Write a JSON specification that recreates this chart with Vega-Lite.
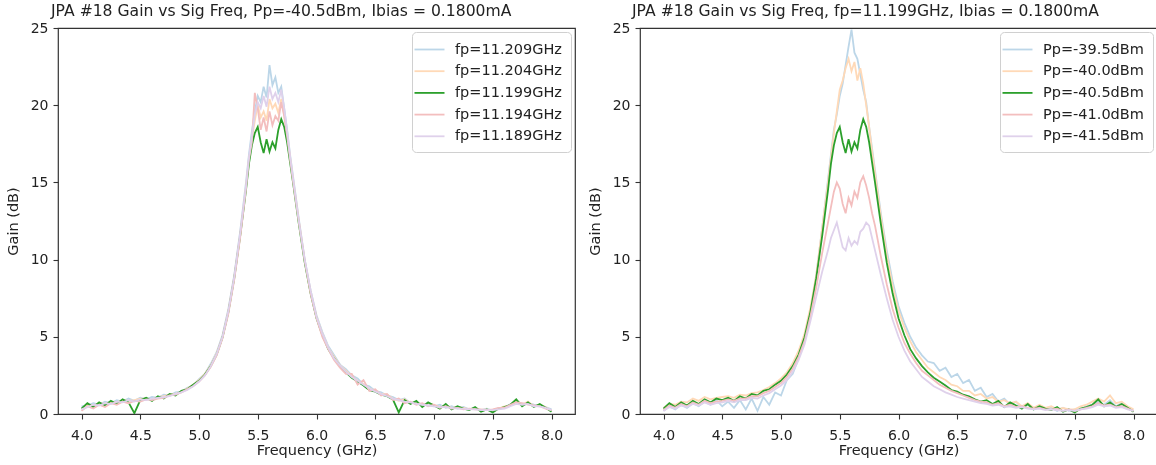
{
"$schema": "https://vega.github.io/schema/vega-lite/v6.json",
"padding": {"left": 4, "top": 3, "right": 2, "bottom": 0},
"spacing": 10,
"config": {
 "font": "DejaVu Sans",
 "view": {"stroke": "#333333", "strokeWidth": 1.2},
 "axis": {"grid": false, "domain": false, "tickColor": "#333333", "tickSize": 5, "tickWidth": 1.1, "labelColor": "#222222", "labelFontSize": 14, "titleFontSize": 14.5, "titleFontWeight": "normal", "titleColor": "#222222", "labelPadding": 5},
 "axisX": {"labelPadding": 9, "titlePadding": 1},
 "title": {"fontSize": 15.6, "fontWeight": "normal", "color": "#222222"}
},
"datasets": {
"L": [
{"k":1,"f":4.00,"g":0.5},{"k":1,"f":4.05,"g":0.55},{"k":1,"f":4.10,"g":0.7},{"k":1,"f":4.15,"g":0.6},{"k":1,"f":4.20,"g":0.8},{"k":1,"f":4.25,"g":0.7},{"k":1,"f":4.30,"g":0.9},{"k":1,"f":4.35,"g":0.8},{"k":1,"f":4.40,"g":1.0},{"k":1,"f":4.45,"g":0.85},{"k":1,"f":4.50,"g":1.05},{"k":1,"f":4.55,"g":0.95},{"k":1,"f":4.60,"g":1.1},{"k":1,"f":4.65,"g":1.05},{"k":1,"f":4.70,"g":1.25},{"k":1,"f":4.75,"g":1.2},{"k":1,"f":4.80,"g":1.4},{"k":1,"f":4.85,"g":1.45},{"k":1,"f":4.90,"g":1.7},{"k":1,"f":4.95,"g":1.85},{"k":1,"f":5.00,"g":2.25},{"k":1,"f":5.05,"g":2.6},{"k":1,"f":5.10,"g":3.25},{"k":1,"f":5.15,"g":4.0},{"k":1,"f":5.20,"g":5.1},{"k":1,"f":5.25,"g":6.8},{"k":1,"f":5.30,"g":9.0},{"k":1,"f":5.35,"g":11.8},{"k":1,"f":5.40,"g":15.0},{"k":1,"f":5.425,"g":16.8},{"k":1,"f":5.45,"g":18.3},{"k":1,"f":5.475,"g":19.6},{"k":1,"f":5.50,"g":20.6},{"k":1,"f":5.525,"g":20.2},{"k":1,"f":5.55,"g":21.2},{"k":1,"f":5.575,"g":20.5},{"k":1,"f":5.60,"g":22.6},{"k":1,"f":5.625,"g":21.3},{"k":1,"f":5.65,"g":21.8},{"k":1,"f":5.675,"g":20.8},{"k":1,"f":5.70,"g":21.2},{"k":1,"f":5.725,"g":19.8},{"k":1,"f":5.75,"g":18.4},{"k":1,"f":5.775,"g":16.8},{"k":1,"f":5.80,"g":15.4},{"k":1,"f":5.85,"g":12.6},{"k":1,"f":5.90,"g":10.0},{"k":1,"f":5.95,"g":8.0},{"k":1,"f":6.00,"g":6.4},{"k":1,"f":6.05,"g":5.3},{"k":1,"f":6.10,"g":4.4},{"k":1,"f":6.15,"g":3.8},{"k":1,"f":6.20,"g":3.2},{"k":1,"f":6.25,"g":2.9},{"k":1,"f":6.30,"g":2.5},{"k":1,"f":6.35,"g":2.3},{"k":1,"f":6.40,"g":1.9},{"k":1,"f":6.45,"g":1.8},{"k":1,"f":6.50,"g":1.5},{"k":1,"f":6.55,"g":1.4},{"k":1,"f":6.60,"g":1.2},{"k":1,"f":6.65,"g":1.1},{"k":1,"f":6.70,"g":0.9},{"k":1,"f":6.75,"g":1.0},{"k":1,"f":6.80,"g":0.7},{"k":1,"f":6.85,"g":0.8},{"k":1,"f":6.90,"g":0.6},{"k":1,"f":6.95,"g":0.7},{"k":1,"f":7.00,"g":0.5},{"k":1,"f":7.05,"g":0.6},{"k":1,"f":7.10,"g":0.4},{"k":1,"f":7.15,"g":0.5},{"k":1,"f":7.20,"g":0.35},{"k":1,"f":7.25,"g":0.45},{"k":1,"f":7.30,"g":0.3},{"k":1,"f":7.35,"g":0.4},{"k":1,"f":7.40,"g":0.25},{"k":1,"f":7.45,"g":0.35},{"k":1,"f":7.50,"g":0.2},{"k":1,"f":7.55,"g":0.4},{"k":1,"f":7.60,"g":0.4},{"k":1,"f":7.65,"g":0.65},{"k":1,"f":7.70,"g":0.8},{"k":1,"f":7.75,"g":0.65},{"k":1,"f":7.80,"g":0.7},{"k":1,"f":7.85,"g":0.6},{"k":1,"f":7.90,"g":0.55},{"k":1,"f":7.95,"g":0.45},{"k":1,"f":8.00,"g":0.3},
{"k":2,"f":4.00,"g":0.3},{"k":2,"f":4.05,"g":0.6},{"k":2,"f":4.10,"g":0.55},{"k":2,"f":4.15,"g":0.7},{"k":2,"f":4.20,"g":0.65},{"k":2,"f":4.25,"g":0.8},{"k":2,"f":4.30,"g":0.75},{"k":2,"f":4.35,"g":0.9},{"k":2,"f":4.40,"g":0.85},{"k":2,"f":4.45,"g":0.9},{"k":2,"f":4.50,"g":1.0},{"k":2,"f":4.55,"g":1.0},{"k":2,"f":4.60,"g":0.95},{"k":2,"f":4.65,"g":1.1},{"k":2,"f":4.70,"g":1.15},{"k":2,"f":4.75,"g":1.25},{"k":2,"f":4.80,"g":1.3},{"k":2,"f":4.85,"g":1.45},{"k":2,"f":4.90,"g":1.65},{"k":2,"f":4.95,"g":1.9},{"k":2,"f":5.00,"g":2.2},{"k":2,"f":5.05,"g":2.6},{"k":2,"f":5.10,"g":3.15},{"k":2,"f":5.15,"g":3.95},{"k":2,"f":5.20,"g":5.0},{"k":2,"f":5.25,"g":6.7},{"k":2,"f":5.30,"g":8.9},{"k":2,"f":5.35,"g":11.6},{"k":2,"f":5.40,"g":14.7},{"k":2,"f":5.425,"g":16.4},{"k":2,"f":5.45,"g":17.8},{"k":2,"f":5.475,"g":19.0},{"k":2,"f":5.50,"g":20.0},{"k":2,"f":5.525,"g":19.2},{"k":2,"f":5.55,"g":19.6},{"k":2,"f":5.575,"g":19.0},{"k":2,"f":5.60,"g":20.4},{"k":2,"f":5.625,"g":19.8},{"k":2,"f":5.65,"g":20.1},{"k":2,"f":5.675,"g":19.5},{"k":2,"f":5.70,"g":20.4},{"k":2,"f":5.725,"g":19.4},{"k":2,"f":5.75,"g":18.1},{"k":2,"f":5.775,"g":16.6},{"k":2,"f":5.80,"g":15.2},{"k":2,"f":5.85,"g":12.5},{"k":2,"f":5.90,"g":9.9},{"k":2,"f":5.95,"g":7.9},{"k":2,"f":6.00,"g":6.3},{"k":2,"f":6.05,"g":5.2},{"k":2,"f":6.10,"g":4.3},{"k":2,"f":6.15,"g":3.7},{"k":2,"f":6.20,"g":3.15},{"k":2,"f":6.25,"g":2.8},{"k":2,"f":6.30,"g":2.45},{"k":2,"f":6.35,"g":2.15},{"k":2,"f":6.40,"g":1.95},{"k":2,"f":6.45,"g":1.65},{"k":2,"f":6.50,"g":1.5},{"k":2,"f":6.55,"g":1.3},{"k":2,"f":6.60,"g":1.25},{"k":2,"f":6.65,"g":1.0},{"k":2,"f":6.70,"g":0.85},{"k":2,"f":6.75,"g":0.95},{"k":2,"f":6.80,"g":0.7},{"k":2,"f":6.85,"g":0.8},{"k":2,"f":6.90,"g":0.55},{"k":2,"f":6.95,"g":0.7},{"k":2,"f":7.00,"g":0.6},{"k":2,"f":7.05,"g":0.45},{"k":2,"f":7.10,"g":0.55},{"k":2,"f":7.15,"g":0.4},{"k":2,"f":7.20,"g":0.45},{"k":2,"f":7.25,"g":0.4},{"k":2,"f":7.30,"g":0.3},{"k":2,"f":7.35,"g":0.4},{"k":2,"f":7.40,"g":0.25},{"k":2,"f":7.45,"g":0.3},{"k":2,"f":7.50,"g":0.2},{"k":2,"f":7.55,"g":0.35},{"k":2,"f":7.60,"g":0.5},{"k":2,"f":7.65,"g":0.55},{"k":2,"f":7.70,"g":0.9},{"k":2,"f":7.75,"g":0.6},{"k":2,"f":7.80,"g":0.8},{"k":2,"f":7.85,"g":0.5},{"k":2,"f":7.90,"g":0.6},{"k":2,"f":7.95,"g":0.45},{"k":2,"f":8.00,"g":0.2},
{"k":3,"f":4.00,"g":0.35},{"k":3,"f":4.05,"g":0.7},{"k":3,"f":4.10,"g":0.45},{"k":3,"f":4.15,"g":0.75},{"k":3,"f":4.20,"g":0.55},{"k":3,"f":4.25,"g":0.85},{"k":3,"f":4.30,"g":0.65},{"k":3,"f":4.35,"g":0.95},{"k":3,"f":4.40,"g":0.75},{"k":3,"f":4.45,"g":0.05},{"k":3,"f":4.50,"g":0.9},{"k":3,"f":4.55,"g":1.05},{"k":3,"f":4.60,"g":0.85},{"k":3,"f":4.65,"g":1.15},{"k":3,"f":4.70,"g":1.0},{"k":3,"f":4.75,"g":1.3},{"k":3,"f":4.80,"g":1.2},{"k":3,"f":4.85,"g":1.5},{"k":3,"f":4.90,"g":1.6},{"k":3,"f":4.95,"g":1.9},{"k":3,"f":5.00,"g":2.15},{"k":3,"f":5.05,"g":2.55},{"k":3,"f":5.10,"g":3.1},{"k":3,"f":5.15,"g":3.85},{"k":3,"f":5.20,"g":4.95},{"k":3,"f":5.25,"g":6.6},{"k":3,"f":5.30,"g":8.8},{"k":3,"f":5.35,"g":11.5},{"k":3,"f":5.40,"g":14.5},{"k":3,"f":5.425,"g":16.2},{"k":3,"f":5.45,"g":17.4},{"k":3,"f":5.475,"g":18.2},{"k":3,"f":5.50,"g":18.6},{"k":3,"f":5.525,"g":17.6},{"k":3,"f":5.55,"g":16.9},{"k":3,"f":5.575,"g":17.8},{"k":3,"f":5.60,"g":17.0},{"k":3,"f":5.625,"g":17.6},{"k":3,"f":5.65,"g":17.2},{"k":3,"f":5.675,"g":18.4},{"k":3,"f":5.70,"g":19.1},{"k":3,"f":5.725,"g":18.6},{"k":3,"f":5.75,"g":17.6},{"k":3,"f":5.775,"g":16.3},{"k":3,"f":5.80,"g":15.0},{"k":3,"f":5.85,"g":12.3},{"k":3,"f":5.90,"g":9.8},{"k":3,"f":5.95,"g":7.8},{"k":3,"f":6.00,"g":6.2},{"k":3,"f":6.05,"g":5.1},{"k":3,"f":6.10,"g":4.2},{"k":3,"f":6.15,"g":3.6},{"k":3,"f":6.20,"g":3.1},{"k":3,"f":6.25,"g":2.7},{"k":3,"f":6.30,"g":2.35},{"k":3,"f":6.35,"g":2.1},{"k":3,"f":6.40,"g":1.85},{"k":3,"f":6.45,"g":1.55},{"k":3,"f":6.50,"g":1.45},{"k":3,"f":6.55,"g":1.25},{"k":3,"f":6.60,"g":1.15},{"k":3,"f":6.65,"g":0.95},{"k":3,"f":6.70,"g":0.1},{"k":3,"f":6.75,"g":0.9},{"k":3,"f":6.80,"g":0.65},{"k":3,"f":6.85,"g":0.85},{"k":3,"f":6.90,"g":0.45},{"k":3,"f":6.95,"g":0.75},{"k":3,"f":7.00,"g":0.55},{"k":3,"f":7.05,"g":0.35},{"k":3,"f":7.10,"g":0.65},{"k":3,"f":7.15,"g":0.3},{"k":3,"f":7.20,"g":0.5},{"k":3,"f":7.25,"g":0.35},{"k":3,"f":7.30,"g":0.25},{"k":3,"f":7.35,"g":0.45},{"k":3,"f":7.40,"g":0.15},{"k":3,"f":7.45,"g":0.3},{"k":3,"f":7.50,"g":0.1},{"k":3,"f":7.55,"g":0.35},{"k":3,"f":7.60,"g":0.45},{"k":3,"f":7.65,"g":0.6},{"k":3,"f":7.70,"g":0.95},{"k":3,"f":7.75,"g":0.5},{"k":3,"f":7.80,"g":0.75},{"k":3,"f":7.85,"g":0.45},{"k":3,"f":7.90,"g":0.65},{"k":3,"f":7.95,"g":0.4},{"k":3,"f":8.00,"g":0.15},
{"k":4,"f":4.00,"g":0.2},{"k":4,"f":4.05,"g":0.5},{"k":4,"f":4.10,"g":0.35},{"k":4,"f":4.15,"g":0.6},{"k":4,"f":4.20,"g":0.45},{"k":4,"f":4.25,"g":0.7},{"k":4,"f":4.30,"g":0.6},{"k":4,"f":4.35,"g":0.8},{"k":4,"f":4.40,"g":0.7},{"k":4,"f":4.45,"g":0.85},{"k":4,"f":4.50,"g":0.8},{"k":4,"f":4.55,"g":0.95},{"k":4,"f":4.60,"g":0.9},{"k":4,"f":4.65,"g":1.0},{"k":4,"f":4.70,"g":1.05},{"k":4,"f":4.75,"g":1.2},{"k":4,"f":4.80,"g":1.25},{"k":4,"f":4.85,"g":1.4},{"k":4,"f":4.90,"g":1.6},{"k":4,"f":4.95,"g":1.8},{"k":4,"f":5.00,"g":2.1},{"k":4,"f":5.05,"g":2.5},{"k":4,"f":5.10,"g":3.05},{"k":4,"f":5.15,"g":3.8},{"k":4,"f":5.20,"g":4.9},{"k":4,"f":5.25,"g":6.5},{"k":4,"f":5.30,"g":8.7},{"k":4,"f":5.35,"g":11.4},{"k":4,"f":5.40,"g":14.6},{"k":4,"f":5.425,"g":16.5},{"k":4,"f":5.45,"g":17.6},{"k":4,"f":5.475,"g":20.8},{"k":4,"f":5.50,"g":19.8},{"k":4,"f":5.525,"g":18.4},{"k":4,"f":5.55,"g":19.2},{"k":4,"f":5.575,"g":18.3},{"k":4,"f":5.60,"g":19.6},{"k":4,"f":5.625,"g":18.7},{"k":4,"f":5.65,"g":19.3},{"k":4,"f":5.675,"g":19.0},{"k":4,"f":5.70,"g":20.2},{"k":4,"f":5.725,"g":19.3},{"k":4,"f":5.75,"g":18.0},{"k":4,"f":5.775,"g":16.5},{"k":4,"f":5.80,"g":15.1},{"k":4,"f":5.85,"g":12.4},{"k":4,"f":5.90,"g":9.9},{"k":4,"f":5.95,"g":7.8},{"k":4,"f":6.00,"g":6.2},{"k":4,"f":6.05,"g":5.0},{"k":4,"f":6.10,"g":4.2},{"k":4,"f":6.15,"g":3.5},{"k":4,"f":6.20,"g":3.0},{"k":4,"f":6.25,"g":2.6},{"k":4,"f":6.30,"g":2.6},{"k":4,"f":6.35,"g":1.9},{"k":4,"f":6.40,"g":2.2},{"k":4,"f":6.45,"g":1.5},{"k":4,"f":6.50,"g":1.6},{"k":4,"f":6.55,"g":1.2},{"k":4,"f":6.60,"g":1.3},{"k":4,"f":6.65,"g":0.9},{"k":4,"f":6.70,"g":1.0},{"k":4,"f":6.75,"g":0.7},{"k":4,"f":6.80,"g":0.8},{"k":4,"f":6.85,"g":0.6},{"k":4,"f":6.90,"g":0.7},{"k":4,"f":6.95,"g":0.5},{"k":4,"f":7.00,"g":0.6},{"k":4,"f":7.05,"g":0.4},{"k":4,"f":7.10,"g":0.5},{"k":4,"f":7.15,"g":0.35},{"k":4,"f":7.20,"g":0.4},{"k":4,"f":7.25,"g":0.3},{"k":4,"f":7.30,"g":0.35},{"k":4,"f":7.35,"g":0.3},{"k":4,"f":7.40,"g":0.3},{"k":4,"f":7.45,"g":0.25},{"k":4,"f":7.50,"g":0.3},{"k":4,"f":7.55,"g":0.4},{"k":4,"f":7.60,"g":0.4},{"k":4,"f":7.65,"g":0.6},{"k":4,"f":7.70,"g":0.75},{"k":4,"f":7.75,"g":0.7},{"k":4,"f":7.80,"g":0.6},{"k":4,"f":7.85,"g":0.55},{"k":4,"f":7.90,"g":0.5},{"k":4,"f":7.95,"g":0.35},{"k":4,"f":8.00,"g":0.25},
{"k":5,"f":4.00,"g":0.3},{"k":5,"f":4.05,"g":0.45},{"k":5,"f":4.10,"g":0.6},{"k":5,"f":4.15,"g":0.55},{"k":5,"f":4.20,"g":0.7},{"k":5,"f":4.25,"g":0.65},{"k":5,"f":4.30,"g":0.8},{"k":5,"f":4.35,"g":0.75},{"k":5,"f":4.40,"g":0.9},{"k":5,"f":4.45,"g":0.8},{"k":5,"f":4.50,"g":0.95},{"k":5,"f":4.55,"g":0.9},{"k":5,"f":4.60,"g":1.0},{"k":5,"f":4.65,"g":1.05},{"k":5,"f":4.70,"g":1.1},{"k":5,"f":4.75,"g":1.15},{"k":5,"f":4.80,"g":1.3},{"k":5,"f":4.85,"g":1.4},{"k":5,"f":4.90,"g":1.55},{"k":5,"f":4.95,"g":1.8},{"k":5,"f":5.00,"g":2.1},{"k":5,"f":5.05,"g":2.5},{"k":5,"f":5.10,"g":3.1},{"k":5,"f":5.15,"g":3.9},{"k":5,"f":5.20,"g":5.0},{"k":5,"f":5.25,"g":6.7},{"k":5,"f":5.30,"g":8.9},{"k":5,"f":5.35,"g":11.7},{"k":5,"f":5.40,"g":14.8},{"k":5,"f":5.425,"g":16.6},{"k":5,"f":5.45,"g":18.0},{"k":5,"f":5.475,"g":19.4},{"k":5,"f":5.50,"g":20.2},{"k":5,"f":5.525,"g":19.8},{"k":5,"f":5.55,"g":20.6},{"k":5,"f":5.575,"g":19.9},{"k":5,"f":5.60,"g":21.2},{"k":5,"f":5.625,"g":20.4},{"k":5,"f":5.65,"g":20.8},{"k":5,"f":5.675,"g":20.2},{"k":5,"f":5.70,"g":21.0},{"k":5,"f":5.725,"g":19.8},{"k":5,"f":5.75,"g":18.3},{"k":5,"f":5.775,"g":16.7},{"k":5,"f":5.80,"g":15.3},{"k":5,"f":5.85,"g":12.5},{"k":5,"f":5.90,"g":10.0},{"k":5,"f":5.95,"g":8.0},{"k":5,"f":6.00,"g":6.3},{"k":5,"f":6.05,"g":5.2},{"k":5,"f":6.10,"g":4.3},{"k":5,"f":6.15,"g":3.6},{"k":5,"f":6.20,"g":3.15},{"k":5,"f":6.25,"g":2.75},{"k":5,"f":6.30,"g":2.4},{"k":5,"f":6.35,"g":2.15},{"k":5,"f":6.40,"g":1.9},{"k":5,"f":6.45,"g":1.65},{"k":5,"f":6.50,"g":1.45},{"k":5,"f":6.55,"g":1.3},{"k":5,"f":6.60,"g":1.15},{"k":5,"f":6.65,"g":1.0},{"k":5,"f":6.70,"g":0.9},{"k":5,"f":6.75,"g":0.8},{"k":5,"f":6.80,"g":0.75},{"k":5,"f":6.85,"g":0.65},{"k":5,"f":6.90,"g":0.6},{"k":5,"f":6.95,"g":0.55},{"k":5,"f":7.00,"g":0.5},{"k":5,"f":7.05,"g":0.45},{"k":5,"f":7.10,"g":0.45},{"k":5,"f":7.15,"g":0.4},{"k":5,"f":7.20,"g":0.35},{"k":5,"f":7.25,"g":0.35},{"k":5,"f":7.30,"g":0.3},{"k":5,"f":7.35,"g":0.3},{"k":5,"f":7.40,"g":0.25},{"k":5,"f":7.45,"g":0.25},{"k":5,"f":7.50,"g":0.25},{"k":5,"f":7.55,"g":0.3},{"k":5,"f":7.60,"g":0.35},{"k":5,"f":7.65,"g":0.5},{"k":5,"f":7.70,"g":0.65},{"k":5,"f":7.75,"g":0.6},{"k":5,"f":7.80,"g":0.65},{"k":5,"f":7.85,"g":0.5},{"k":5,"f":7.90,"g":0.5},{"k":5,"f":7.95,"g":0.4},{"k":5,"f":8.00,"g":0.25}
],
"R": [
{"k":1,"f":4.00,"g":0.2},{"k":1,"f":4.05,"g":0.5},{"k":1,"f":4.10,"g":0.3},{"k":1,"f":4.15,"g":0.6},{"k":1,"f":4.20,"g":0.4},{"k":1,"f":4.25,"g":0.7},{"k":1,"f":4.30,"g":0.5},{"k":1,"f":4.35,"g":0.8},{"k":1,"f":4.40,"g":0.6},{"k":1,"f":4.45,"g":0.9},{"k":1,"f":4.50,"g":0.5},{"k":1,"f":4.55,"g":0.8},{"k":1,"f":4.60,"g":0.4},{"k":1,"f":4.65,"g":0.9},{"k":1,"f":4.70,"g":0.3},{"k":1,"f":4.75,"g":1.0},{"k":1,"f":4.80,"g":0.2},{"k":1,"f":4.85,"g":1.1},{"k":1,"f":4.90,"g":0.6},{"k":1,"f":4.95,"g":1.4},{"k":1,"f":5.00,"g":1.2},{"k":1,"f":5.05,"g":2.2},{"k":1,"f":5.10,"g":2.6},{"k":1,"f":5.15,"g":3.6},{"k":1,"f":5.20,"g":4.8},{"k":1,"f":5.25,"g":6.6},{"k":1,"f":5.30,"g":9.0},{"k":1,"f":5.35,"g":12.0},{"k":1,"f":5.40,"g":15.2},{"k":1,"f":5.425,"g":16.8},{"k":1,"f":5.45,"g":18.4},{"k":1,"f":5.475,"g":19.4},{"k":1,"f":5.50,"g":20.6},{"k":1,"f":5.525,"g":21.4},{"k":1,"f":5.55,"g":22.6},{"k":1,"f":5.575,"g":23.8},{"k":1,"f":5.60,"g":24.9},{"k":1,"f":5.625,"g":23.4},{"k":1,"f":5.65,"g":23.0},{"k":1,"f":5.675,"g":22.0},{"k":1,"f":5.70,"g":21.0},{"k":1,"f":5.725,"g":20.2},{"k":1,"f":5.75,"g":18.6},{"k":1,"f":5.775,"g":17.2},{"k":1,"f":5.80,"g":15.8},{"k":1,"f":5.85,"g":13.0},{"k":1,"f":5.90,"g":10.6},{"k":1,"f":5.95,"g":8.6},{"k":1,"f":6.00,"g":7.0},{"k":1,"f":6.05,"g":5.9},{"k":1,"f":6.10,"g":5.0},{"k":1,"f":6.15,"g":4.3},{"k":1,"f":6.20,"g":3.8},{"k":1,"f":6.25,"g":3.4},{"k":1,"f":6.30,"g":3.3},{"k":1,"f":6.35,"g":2.8},{"k":1,"f":6.40,"g":3.0},{"k":1,"f":6.45,"g":2.4},{"k":1,"f":6.50,"g":2.6},{"k":1,"f":6.55,"g":2.0},{"k":1,"f":6.60,"g":2.2},{"k":1,"f":6.65,"g":1.5},{"k":1,"f":6.70,"g":1.7},{"k":1,"f":6.75,"g":1.1},{"k":1,"f":6.80,"g":1.3},{"k":1,"f":6.85,"g":0.8},{"k":1,"f":6.90,"g":1.0},{"k":1,"f":6.95,"g":0.6},{"k":1,"f":7.00,"g":0.8},{"k":1,"f":7.05,"g":0.4},{"k":1,"f":7.10,"g":0.6},{"k":1,"f":7.15,"g":0.3},{"k":1,"f":7.20,"g":0.5},{"k":1,"f":7.25,"g":0.3},{"k":1,"f":7.30,"g":0.4},{"k":1,"f":7.35,"g":0.2},{"k":1,"f":7.40,"g":0.4},{"k":1,"f":7.45,"g":0.2},{"k":1,"f":7.50,"g":0.3},{"k":1,"f":7.55,"g":0.3},{"k":1,"f":7.60,"g":0.5},{"k":1,"f":7.65,"g":0.6},{"k":1,"f":7.70,"g":0.8},{"k":1,"f":7.75,"g":0.6},{"k":1,"f":7.80,"g":0.9},{"k":1,"f":7.85,"g":0.5},{"k":1,"f":7.90,"g":0.7},{"k":1,"f":7.95,"g":0.4},{"k":1,"f":8.00,"g":0.2},
{"k":2,"f":4.00,"g":0.4},{"k":2,"f":4.05,"g":0.65},{"k":2,"f":4.10,"g":0.6},{"k":2,"f":4.15,"g":0.8},{"k":2,"f":4.20,"g":0.75},{"k":2,"f":4.25,"g":1.0},{"k":2,"f":4.30,"g":0.85},{"k":2,"f":4.35,"g":1.1},{"k":2,"f":4.40,"g":0.95},{"k":2,"f":4.45,"g":1.05},{"k":2,"f":4.50,"g":1.1},{"k":2,"f":4.55,"g":1.15},{"k":2,"f":4.60,"g":1.05},{"k":2,"f":4.65,"g":1.25},{"k":2,"f":4.70,"g":1.2},{"k":2,"f":4.75,"g":1.35},{"k":2,"f":4.80,"g":1.4},{"k":2,"f":4.85,"g":1.55},{"k":2,"f":4.90,"g":1.75},{"k":2,"f":4.95,"g":2.0},{"k":2,"f":5.00,"g":2.3},{"k":2,"f":5.05,"g":2.7},{"k":2,"f":5.10,"g":3.3},{"k":2,"f":5.15,"g":4.1},{"k":2,"f":5.20,"g":5.2},{"k":2,"f":5.25,"g":6.9},{"k":2,"f":5.30,"g":9.0},{"k":2,"f":5.35,"g":12.0},{"k":2,"f":5.40,"g":15.0},{"k":2,"f":5.425,"g":16.6},{"k":2,"f":5.45,"g":18.2},{"k":2,"f":5.475,"g":19.6},{"k":2,"f":5.50,"g":21.0},{"k":2,"f":5.525,"g":21.6},{"k":2,"f":5.55,"g":22.4},{"k":2,"f":5.575,"g":23.0},{"k":2,"f":5.60,"g":22.2},{"k":2,"f":5.625,"g":22.8},{"k":2,"f":5.65,"g":21.6},{"k":2,"f":5.675,"g":22.4},{"k":2,"f":5.70,"g":21.4},{"k":2,"f":5.725,"g":20.0},{"k":2,"f":5.75,"g":18.6},{"k":2,"f":5.775,"g":17.0},{"k":2,"f":5.80,"g":15.6},{"k":2,"f":5.85,"g":12.8},{"k":2,"f":5.90,"g":10.3},{"k":2,"f":5.95,"g":8.3},{"k":2,"f":6.00,"g":6.7},{"k":2,"f":6.05,"g":5.6},{"k":2,"f":6.10,"g":4.7},{"k":2,"f":6.15,"g":4.0},{"k":2,"f":6.20,"g":3.5},{"k":2,"f":6.25,"g":3.0},{"k":2,"f":6.30,"g":2.7},{"k":2,"f":6.35,"g":2.4},{"k":2,"f":6.40,"g":2.2},{"k":2,"f":6.45,"g":1.9},{"k":2,"f":6.50,"g":1.8},{"k":2,"f":6.55,"g":1.5},{"k":2,"f":6.60,"g":1.5},{"k":2,"f":6.65,"g":1.2},{"k":2,"f":6.70,"g":1.3},{"k":2,"f":6.75,"g":1.0},{"k":2,"f":6.80,"g":1.1},{"k":2,"f":6.85,"g":0.8},{"k":2,"f":6.90,"g":0.9},{"k":2,"f":6.95,"g":0.7},{"k":2,"f":7.00,"g":0.8},{"k":2,"f":7.05,"g":0.5},{"k":2,"f":7.10,"g":0.7},{"k":2,"f":7.15,"g":0.4},{"k":2,"f":7.20,"g":0.6},{"k":2,"f":7.25,"g":0.4},{"k":2,"f":7.30,"g":0.5},{"k":2,"f":7.35,"g":0.3},{"k":2,"f":7.40,"g":0.4},{"k":2,"f":7.45,"g":0.3},{"k":2,"f":7.50,"g":0.3},{"k":2,"f":7.55,"g":0.5},{"k":2,"f":7.60,"g":0.6},{"k":2,"f":7.65,"g":0.8},{"k":2,"f":7.70,"g":1.0},{"k":2,"f":7.75,"g":0.8},{"k":2,"f":7.80,"g":1.2},{"k":2,"f":7.85,"g":0.7},{"k":2,"f":7.90,"g":0.8},{"k":2,"f":7.95,"g":0.5},{"k":2,"f":8.00,"g":0.3},
{"k":3,"f":4.00,"g":0.35},{"k":3,"f":4.05,"g":0.7},{"k":3,"f":4.10,"g":0.45},{"k":3,"f":4.15,"g":0.75},{"k":3,"f":4.20,"g":0.55},{"k":3,"f":4.25,"g":0.85},{"k":3,"f":4.30,"g":0.65},{"k":3,"f":4.35,"g":0.95},{"k":3,"f":4.40,"g":0.75},{"k":3,"f":4.45,"g":1.0},{"k":3,"f":4.50,"g":0.9},{"k":3,"f":4.55,"g":1.05},{"k":3,"f":4.60,"g":0.85},{"k":3,"f":4.65,"g":1.15},{"k":3,"f":4.70,"g":1.0},{"k":3,"f":4.75,"g":1.3},{"k":3,"f":4.80,"g":1.2},{"k":3,"f":4.85,"g":1.5},{"k":3,"f":4.90,"g":1.6},{"k":3,"f":4.95,"g":1.9},{"k":3,"f":5.00,"g":2.15},{"k":3,"f":5.05,"g":2.55},{"k":3,"f":5.10,"g":3.1},{"k":3,"f":5.15,"g":3.85},{"k":3,"f":5.20,"g":4.95},{"k":3,"f":5.25,"g":6.6},{"k":3,"f":5.30,"g":8.8},{"k":3,"f":5.35,"g":11.5},{"k":3,"f":5.40,"g":14.5},{"k":3,"f":5.425,"g":16.2},{"k":3,"f":5.45,"g":17.4},{"k":3,"f":5.475,"g":18.2},{"k":3,"f":5.50,"g":18.6},{"k":3,"f":5.525,"g":17.6},{"k":3,"f":5.55,"g":16.9},{"k":3,"f":5.575,"g":17.8},{"k":3,"f":5.60,"g":17.0},{"k":3,"f":5.625,"g":17.6},{"k":3,"f":5.65,"g":17.2},{"k":3,"f":5.675,"g":18.4},{"k":3,"f":5.70,"g":19.1},{"k":3,"f":5.725,"g":18.6},{"k":3,"f":5.75,"g":17.6},{"k":3,"f":5.775,"g":16.3},{"k":3,"f":5.80,"g":15.0},{"k":3,"f":5.85,"g":12.3},{"k":3,"f":5.90,"g":9.8},{"k":3,"f":5.95,"g":7.8},{"k":3,"f":6.00,"g":6.2},{"k":3,"f":6.05,"g":5.1},{"k":3,"f":6.10,"g":4.2},{"k":3,"f":6.15,"g":3.6},{"k":3,"f":6.20,"g":3.1},{"k":3,"f":6.25,"g":2.7},{"k":3,"f":6.30,"g":2.35},{"k":3,"f":6.35,"g":2.1},{"k":3,"f":6.40,"g":1.85},{"k":3,"f":6.45,"g":1.55},{"k":3,"f":6.50,"g":1.45},{"k":3,"f":6.55,"g":1.25},{"k":3,"f":6.60,"g":1.15},{"k":3,"f":6.65,"g":0.95},{"k":3,"f":6.70,"g":0.8},{"k":3,"f":6.75,"g":0.9},{"k":3,"f":6.80,"g":0.65},{"k":3,"f":6.85,"g":0.85},{"k":3,"f":6.90,"g":0.45},{"k":3,"f":6.95,"g":0.75},{"k":3,"f":7.00,"g":0.55},{"k":3,"f":7.05,"g":0.35},{"k":3,"f":7.10,"g":0.65},{"k":3,"f":7.15,"g":0.3},{"k":3,"f":7.20,"g":0.5},{"k":3,"f":7.25,"g":0.35},{"k":3,"f":7.30,"g":0.25},{"k":3,"f":7.35,"g":0.45},{"k":3,"f":7.40,"g":0.15},{"k":3,"f":7.45,"g":0.3},{"k":3,"f":7.50,"g":0.1},{"k":3,"f":7.55,"g":0.35},{"k":3,"f":7.60,"g":0.45},{"k":3,"f":7.65,"g":0.6},{"k":3,"f":7.70,"g":0.95},{"k":3,"f":7.75,"g":0.5},{"k":3,"f":7.80,"g":0.75},{"k":3,"f":7.85,"g":0.45},{"k":3,"f":7.90,"g":0.65},{"k":3,"f":7.95,"g":0.4},{"k":3,"f":8.00,"g":0.15},
{"k":4,"f":4.00,"g":0.25},{"k":4,"f":4.05,"g":0.55},{"k":4,"f":4.10,"g":0.4},{"k":4,"f":4.15,"g":0.65},{"k":4,"f":4.20,"g":0.5},{"k":4,"f":4.25,"g":0.75},{"k":4,"f":4.30,"g":0.6},{"k":4,"f":4.35,"g":0.85},{"k":4,"f":4.40,"g":0.7},{"k":4,"f":4.45,"g":0.8},{"k":4,"f":4.50,"g":0.85},{"k":4,"f":4.55,"g":0.95},{"k":4,"f":4.60,"g":0.85},{"k":4,"f":4.65,"g":1.0},{"k":4,"f":4.70,"g":1.0},{"k":4,"f":4.75,"g":1.15},{"k":4,"f":4.80,"g":1.15},{"k":4,"f":4.85,"g":1.35},{"k":4,"f":4.90,"g":1.5},{"k":4,"f":4.95,"g":1.75},{"k":4,"f":5.00,"g":2.0},{"k":4,"f":5.05,"g":2.4},{"k":4,"f":5.10,"g":2.95},{"k":4,"f":5.15,"g":3.7},{"k":4,"f":5.20,"g":4.7},{"k":4,"f":5.25,"g":6.3},{"k":4,"f":5.30,"g":8.2},{"k":4,"f":5.35,"g":10.4},{"k":4,"f":5.40,"g":12.4},{"k":4,"f":5.425,"g":13.4},{"k":4,"f":5.45,"g":14.4},{"k":4,"f":5.475,"g":15.0},{"k":4,"f":5.50,"g":14.6},{"k":4,"f":5.525,"g":13.6},{"k":4,"f":5.55,"g":13.0},{"k":4,"f":5.575,"g":14.0},{"k":4,"f":5.60,"g":13.5},{"k":4,"f":5.625,"g":14.4},{"k":4,"f":5.65,"g":14.0},{"k":4,"f":5.675,"g":15.0},{"k":4,"f":5.70,"g":15.4},{"k":4,"f":5.725,"g":14.8},{"k":4,"f":5.75,"g":14.0},{"k":4,"f":5.775,"g":13.0},{"k":4,"f":5.80,"g":12.2},{"k":4,"f":5.85,"g":10.2},{"k":4,"f":5.90,"g":8.4},{"k":4,"f":5.95,"g":6.8},{"k":4,"f":6.00,"g":5.6},{"k":4,"f":6.05,"g":4.6},{"k":4,"f":6.10,"g":3.9},{"k":4,"f":6.15,"g":3.3},{"k":4,"f":6.20,"g":2.8},{"k":4,"f":6.25,"g":2.5},{"k":4,"f":6.30,"g":2.2},{"k":4,"f":6.35,"g":1.9},{"k":4,"f":6.40,"g":1.7},{"k":4,"f":6.45,"g":1.5},{"k":4,"f":6.50,"g":1.35},{"k":4,"f":6.55,"g":1.2},{"k":4,"f":6.60,"g":1.05},{"k":4,"f":6.65,"g":0.9},{"k":4,"f":6.70,"g":0.8},{"k":4,"f":6.75,"g":0.75},{"k":4,"f":6.80,"g":0.6},{"k":4,"f":6.85,"g":0.7},{"k":4,"f":6.90,"g":0.5},{"k":4,"f":6.95,"g":0.6},{"k":4,"f":7.00,"g":0.45},{"k":4,"f":7.05,"g":0.5},{"k":4,"f":7.10,"g":0.4},{"k":4,"f":7.15,"g":0.35},{"k":4,"f":7.20,"g":0.4},{"k":4,"f":7.25,"g":0.3},{"k":4,"f":7.30,"g":0.3},{"k":4,"f":7.35,"g":0.35},{"k":4,"f":7.40,"g":0.2},{"k":4,"f":7.45,"g":0.3},{"k":4,"f":7.50,"g":0.2},{"k":4,"f":7.55,"g":0.3},{"k":4,"f":7.60,"g":0.4},{"k":4,"f":7.65,"g":0.5},{"k":4,"f":7.70,"g":0.7},{"k":4,"f":7.75,"g":0.55},{"k":4,"f":7.80,"g":0.6},{"k":4,"f":7.85,"g":0.45},{"k":4,"f":7.90,"g":0.5},{"k":4,"f":7.95,"g":0.35},{"k":4,"f":8.00,"g":0.2},
{"k":5,"f":4.00,"g":0.2},{"k":5,"f":4.05,"g":0.45},{"k":5,"f":4.10,"g":0.35},{"k":5,"f":4.15,"g":0.55},{"k":5,"f":4.20,"g":0.45},{"k":5,"f":4.25,"g":0.65},{"k":5,"f":4.30,"g":0.55},{"k":5,"f":4.35,"g":0.75},{"k":5,"f":4.40,"g":0.6},{"k":5,"f":4.45,"g":0.7},{"k":5,"f":4.50,"g":0.75},{"k":5,"f":4.55,"g":0.85},{"k":5,"f":4.60,"g":0.75},{"k":5,"f":4.65,"g":0.9},{"k":5,"f":4.70,"g":0.9},{"k":5,"f":4.75,"g":1.05},{"k":5,"f":4.80,"g":1.0},{"k":5,"f":4.85,"g":1.2},{"k":5,"f":4.90,"g":1.35},{"k":5,"f":4.95,"g":1.6},{"k":5,"f":5.00,"g":1.85},{"k":5,"f":5.05,"g":2.2},{"k":5,"f":5.10,"g":2.75},{"k":5,"f":5.15,"g":3.5},{"k":5,"f":5.20,"g":4.5},{"k":5,"f":5.25,"g":6.0},{"k":5,"f":5.30,"g":7.6},{"k":5,"f":5.35,"g":9.2},{"k":5,"f":5.40,"g":10.6},{"k":5,"f":5.425,"g":11.4},{"k":5,"f":5.45,"g":11.9},{"k":5,"f":5.475,"g":12.4},{"k":5,"f":5.50,"g":11.6},{"k":5,"f":5.525,"g":10.8},{"k":5,"f":5.55,"g":10.6},{"k":5,"f":5.575,"g":11.4},{"k":5,"f":5.60,"g":10.9},{"k":5,"f":5.625,"g":11.2},{"k":5,"f":5.65,"g":11.0},{"k":5,"f":5.675,"g":11.8},{"k":5,"f":5.70,"g":12.0},{"k":5,"f":5.725,"g":12.4},{"k":5,"f":5.75,"g":12.2},{"k":5,"f":5.775,"g":11.4},{"k":5,"f":5.80,"g":10.6},{"k":5,"f":5.85,"g":9.0},{"k":5,"f":5.90,"g":7.5},{"k":5,"f":5.95,"g":6.1},{"k":5,"f":6.00,"g":5.0},{"k":5,"f":6.05,"g":4.1},{"k":5,"f":6.10,"g":3.4},{"k":5,"f":6.15,"g":2.9},{"k":5,"f":6.20,"g":2.4},{"k":5,"f":6.25,"g":2.1},{"k":5,"f":6.30,"g":1.8},{"k":5,"f":6.35,"g":1.6},{"k":5,"f":6.40,"g":1.4},{"k":5,"f":6.45,"g":1.25},{"k":5,"f":6.50,"g":1.1},{"k":5,"f":6.55,"g":1.0},{"k":5,"f":6.60,"g":0.9},{"k":5,"f":6.65,"g":0.8},{"k":5,"f":6.70,"g":0.7},{"k":5,"f":6.75,"g":0.65},{"k":5,"f":6.80,"g":0.55},{"k":5,"f":6.85,"g":0.6},{"k":5,"f":6.90,"g":0.45},{"k":5,"f":6.95,"g":0.5},{"k":5,"f":7.00,"g":0.4},{"k":5,"f":7.05,"g":0.45},{"k":5,"f":7.10,"g":0.35},{"k":5,"f":7.15,"g":0.3},{"k":5,"f":7.20,"g":0.35},{"k":5,"f":7.25,"g":0.25},{"k":5,"f":7.30,"g":0.3},{"k":5,"f":7.35,"g":0.25},{"k":5,"f":7.40,"g":0.2},{"k":5,"f":7.45,"g":0.25},{"k":5,"f":7.50,"g":0.2},{"k":5,"f":7.55,"g":0.3},{"k":5,"f":7.60,"g":0.35},{"k":5,"f":7.65,"g":0.45},{"k":5,"f":7.70,"g":0.6},{"k":5,"f":7.75,"g":0.5},{"k":5,"f":7.80,"g":0.55},{"k":5,"f":7.85,"g":0.4},{"k":5,"f":7.90,"g":0.45},{"k":5,"f":7.95,"g":0.3},{"k":5,"f":8.00,"g":0.2}
]
},
"hconcat": [
{
 "width": 517, "height": 386,
 "title": {"text": "JPA #18 Gain vs Sig Freq, Pp=-40.5dBm, Ibias = 0.1800mA", "anchor": "start", "frame": "group", "dx": -7, "offset": 1},
 "data": {"name": "L"},
 "mark": {"type": "line", "strokeWidth": 1.8, "clip": true, "blend": "multiply"},
 "encoding": {
  "x": {"field": "f", "type": "quantitative", "scale": {"domain": [3.8, 8.2], "nice": false, "zero": false}, "axis": {"values": [4, 4.5, 5, 5.5, 6, 6.5, 7, 7.5, 8], "format": ".1f", "title": "Frequency (GHz)"}},
  "y": {"field": "g", "type": "quantitative", "scale": {"domain": [0, 25], "nice": false}, "axis": {"values": [0, 5, 10, 15, 20, 25], "format": "d", "title": "Gain (dB)", "titlePadding": 10}},
  "color": {"field": "k", "type": "nominal", "scale": {"domain": [1, 2, 3, 4, 5], "range": ["#bcd6e8", "#ffd9b7", "#2ca02c", "#f3bebe", "#dfd1eb"]},
   "legend": {"title": null, "orient": "top-right", "offset": 4, "labelExpr": "['fp=11.209GHz','fp=11.204GHz','fp=11.199GHz','fp=11.194GHz','fp=11.189GHz'][datum.value-1]", "symbolType": "M-2,0H2", "symbolSize": 225, "symbolStrokeWidth": 1.8, "labelFontSize": 14.5, "labelColor": "#222222", "labelOffset": 17, "rowPadding": 6.7, "padding": 9, "strokeColor": "#d0d0d0", "fillColor": "rgba(255,255,255,0.8)", "cornerRadius": 4}}
 }
},
{
 "width": 517, "height": 386,
 "title": {"text": "JPA #18 Gain vs Sig Freq, fp=11.199GHz, Ibias = 0.1800mA", "anchor": "start", "frame": "group", "dx": -8, "offset": 1},
 "data": {"name": "R"},
 "mark": {"type": "line", "strokeWidth": 1.8, "clip": true, "blend": "multiply"},
 "encoding": {
  "x": {"field": "f", "type": "quantitative", "scale": {"domain": [3.8, 8.2], "nice": false, "zero": false}, "axis": {"values": [4, 4.5, 5, 5.5, 6, 6.5, 7, 7.5, 8], "format": ".1f", "title": "Frequency (GHz)"}},
  "y": {"field": "g", "type": "quantitative", "scale": {"domain": [0, 25], "nice": false}, "axis": {"values": [0, 5, 10, 15, 20, 25], "format": "d", "title": "Gain (dB)", "titlePadding": 10}},
  "color": {"field": "k", "type": "nominal", "scale": {"domain": [1, 2, 3, 4, 5], "range": ["#bcd6e8", "#ffd9b7", "#2ca02c", "#f3bebe", "#dfd1eb"]},
   "legend": {"title": null, "orient": "top-right", "offset": 4, "labelExpr": "['Pp=-39.5dBm','Pp=-40.0dBm','Pp=-40.5dBm','Pp=-41.0dBm','Pp=-41.5dBm'][datum.value-1]", "symbolType": "M-2,0H2", "symbolSize": 225, "symbolStrokeWidth": 1.8, "labelFontSize": 14.5, "labelColor": "#222222", "labelOffset": 17, "rowPadding": 6.7, "padding": 9, "strokeColor": "#d0d0d0", "fillColor": "rgba(255,255,255,0.8)", "cornerRadius": 4}}
 }
}
],
"resolve": {"scale": {"color": "independent"}, "legend": {"color": "independent"}}
}
